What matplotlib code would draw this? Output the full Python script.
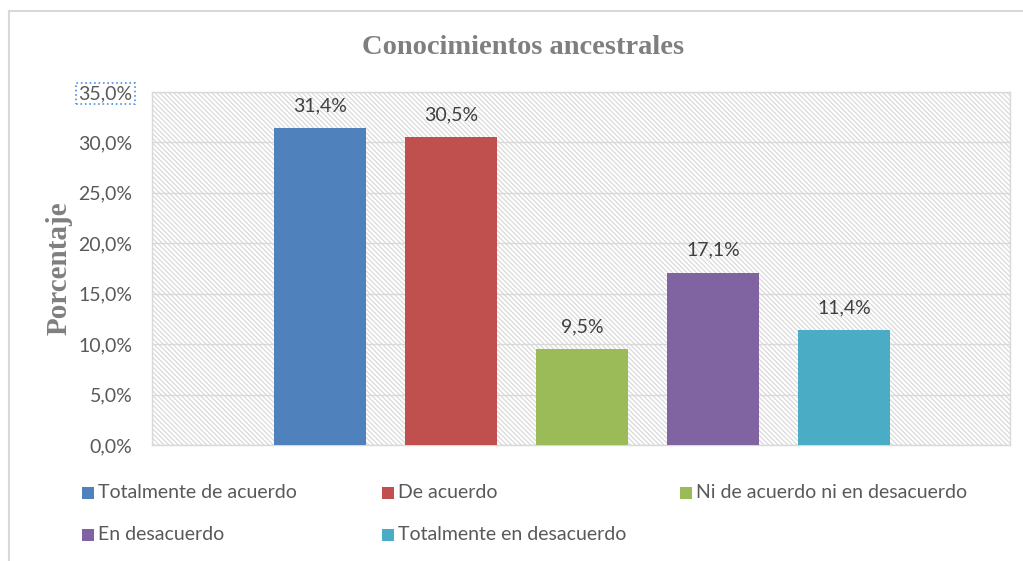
import matplotlib.pyplot as plt
from matplotlib.patches import Rectangle
from matplotlib.ticker import FuncFormatter
from matplotlib.lines import Line2D

# survey answers and their shares (%)
categories = ['Totalmente de acuerdo', 'De acuerdo', 'Ni de acuerdo ni en desacuerdo',
              'En desacuerdo', 'Totalmente en desacuerdo']
values = [31.4, 30.5, 9.5, 17.1, 11.4]
colors = ['#4f81bd', '#c0504d', '#9bbb59', '#8064a2', '#4bacc6']
yticks = [0, 5, 10, 15, 20, 25, 30, 35]

title = 'Conocimientos ancestrales'
ylabel = 'Porcentaje'

sans = 'Lato'
serif = 'Liberation Serif'
text_gray = '#595959'
grid_gray = '#d9d9d9'

plt.rcParams['hatch.linewidth'] = 0.8


def pct(v, pos=None):
    return f'{v:.1f}%'.replace('.', ',')


fig = plt.figure(figsize=(10.23, 5.61), dpi=100)
ax = fig.add_axes([152 / 1023, 1 - 445 / 561, 858 / 1023, 353 / 561])

# outer chart frame (left and top edges only visible)
fig.add_artist(Line2D([9 / 1023, 9 / 1023], [0, 1 - 11 / 561], color='#d9d9d9', lw=1.5))
fig.add_artist(Line2D([9 / 1023, 1], [1 - 11 / 561, 1 - 11 / 561], color='#d9d9d9', lw=1.5))

# hatched plot area background
ax.patch.set_facecolor('white')
ax.add_patch(Rectangle((0, 0), 1, 1, transform=ax.transAxes, facecolor='white',
                       edgecolor='#d6d6d6', hatch='\\' * 7, linewidth=0, zorder=0))

x = list(range(len(values)))
bars = ax.bar(x, values, width=0.695, color=colors, zorder=3)
ax.bar_label(bars, labels=[pct(v) for v in values], padding=10,
             fontsize=14, color='#404040', family=sans)

ax.set_xlim(2 - 430 / 131, 2 + 428 / 131)
ax.set_ylim(0, 35)
ax.set_yticks(yticks)
ax.yaxis.set_major_formatter(FuncFormatter(pct))
ax.set_xticks([])
ax.tick_params(axis='y', length=0, pad=14, labelsize=14, labelcolor=text_gray)
for lab in ax.get_yticklabels():
    lab.set_family(sans)
ax.get_yticklabels()[-1].set_bbox(dict(facecolor='none', edgecolor='#4a90e2',
                                       linestyle=':', linewidth=1.2, pad=1.5))
ax.grid(axis='y', color=grid_gray, linewidth=1, zorder=1)
ax.set_axisbelow(True)
for s in ax.spines.values():
    s.set_color(grid_gray)
    s.set_linewidth(1)

ax.set_ylabel(ylabel, family=serif, fontweight='bold', fontsize=21,
              color='#7f7f7f', labelpad=4)
fig.text(523 / 1023, 1 - 47 / 561, title, ha='center', va='center', family=serif,
         fontweight='bold', fontsize=20.5, color='#7f7f7f')

# legend laid out in fixed-width columns
col_x = [82, 382, 680]
row_y = [493, 535]
for i, (lab, c) in enumerate(zip(categories, colors)):
    px = col_x[i % 3]
    py = row_y[i // 3]
    fig.add_artist(Rectangle((px / 1023, 1 - (py + 6) / 561), 12 / 1023, 12 / 561,
                             facecolor=c, edgecolor='none'))
    fig.text((px + 16) / 1023, 1 - py / 561, lab, ha='left', va='center',
             family=sans, fontsize=14, color=text_gray)

fig.savefig('out.png', dpi=100)
